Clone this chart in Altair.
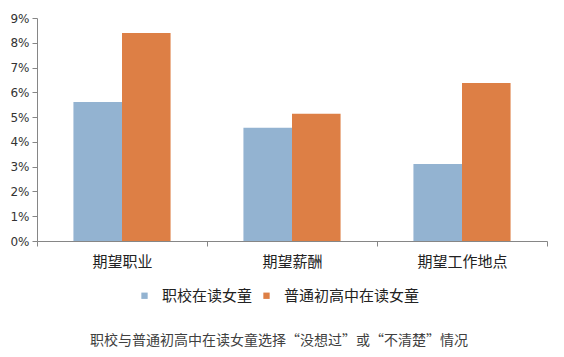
import altair as alt
import pandas as pd

categories = ["期望职业", "期望薪酬", "期望工作地点"]
series = ["职校在读女童", "普通初高中在读女童"]
vocational = [0.0561, 0.0457, 0.0311]
general = [0.0839, 0.0514, 0.0638]
y_ticks = [0.00, 0.01, 0.02, 0.03, 0.04, 0.05, 0.06, 0.07, 0.08, 0.09]

rows = []
for c, v1, v2 in zip(categories, vocational, general):
    rows.append({"类别": c, "群体": series[0], "比例": v1})
    rows.append({"类别": c, "群体": series[1], "比例": v2})
df = pd.DataFrame(rows)

CJK = "Noto Sans CJK SC"

chart = alt.Chart(df).mark_bar().encode(
    x=alt.X("类别:N", sort=categories,
            scale=alt.Scale(paddingInner=0, paddingOuter=0),
            axis=alt.Axis(title=None, labelAngle=0, tickBand="extent",
                          labelFont=CJK, labelFontSize=15, labelColor="#222222",
                          labelPadding=8, domainColor="#868686", tickColor="#868686",
                          tickSize=5)),
    xOffset=alt.XOffset("群体:N", sort=series,
                        scale=alt.Scale(paddingInner=0, paddingOuter=0.75)),
    y=alt.Y("比例:Q", scale=alt.Scale(domain=[0, 0.09]),
            axis=alt.Axis(title=None, format=".0%", values=y_ticks, labelOverlap=False,
                          grid=False, labelFont="DejaVu Sans", labelFontSize=12,
                          labelColor="#333333", domainColor="#868686", tickColor="#868686",
                          tickSize=5, labelPadding=3)),
    color=alt.Color("群体:N", sort=series,
                    scale=alt.Scale(domain=series, range=["#93B3D1", "#DD7F45"]),
                    legend=alt.Legend(title=None, orient="none", direction="horizontal",
                                      legendX=100, legendY=270, symbolType="square",
                                      symbolSize=40, symbolStrokeWidth=0,
                                      labelFont=CJK, labelFontSize=15, labelColor="#222222",
                                      columnPadding=6, labelOffset=10)),
).properties(
    width=510, height=223,
    title=alt.TitleParams("职校与普通初高中在读女童选择“没想过”或“不清楚”情况",
                          orient="bottom", font=CJK, fontSize=14, fontWeight="normal",
                          color="#404040", offset=30, dx=-13),
    padding={"left": 37, "top": 18, "right": 17, "bottom": 116},
    autosize=alt.AutoSizeParams(type="none"),
).configure_view(stroke=None)

chart.save("out.html", embed_options={"renderer": "svg", "actions": False})
